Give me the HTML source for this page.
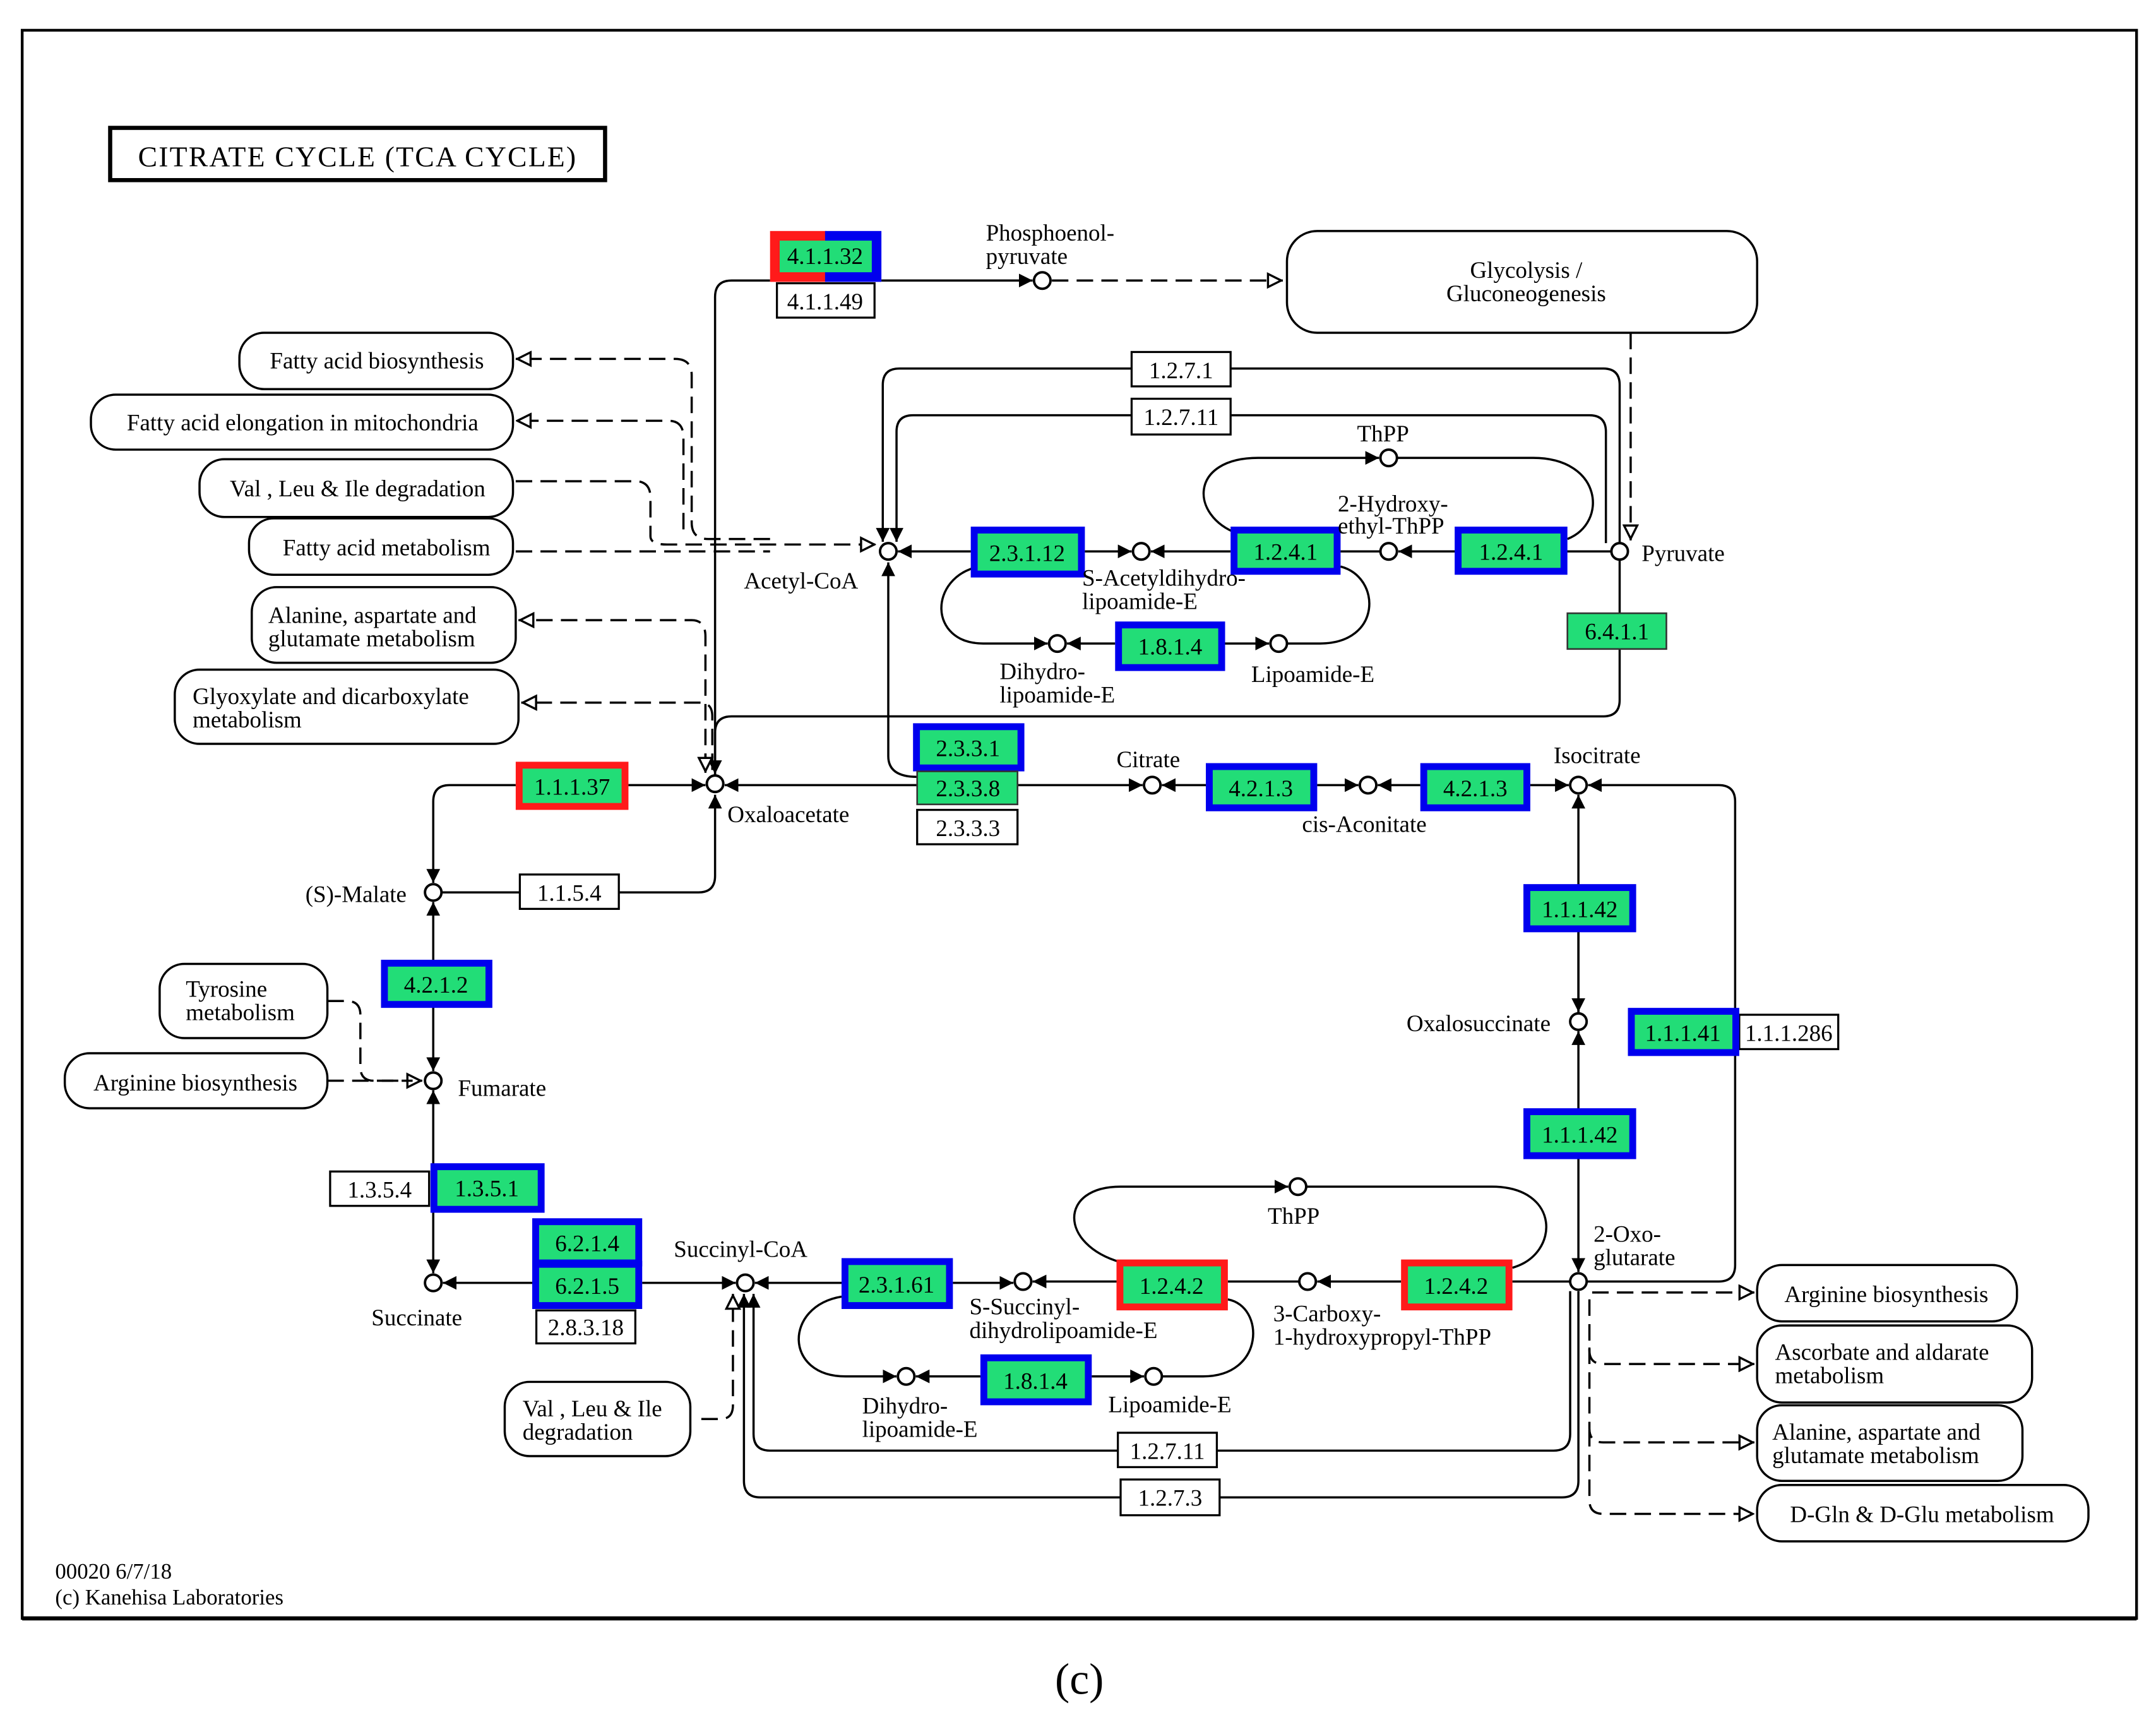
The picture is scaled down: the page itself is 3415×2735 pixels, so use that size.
<!DOCTYPE html>
<html><head><meta charset="utf-8"><style>
html,body{margin:0;padding:0;background:#fff;}
svg{display:block;}
text{font-family:"Liberation Serif",serif;font-size:17px;fill:#000;}
.e{text-anchor:middle;}
.ln{fill:none;stroke:#000;stroke-width:1.6;}
.d{fill:none;stroke:#000;stroke-width:1.6;stroke-dasharray:12,6;}
.c{fill:#fff;stroke:#000;stroke-width:1.8;}
.m{fill:#fff;stroke:#000;stroke-width:1.6;}
.w{fill:#fff;stroke:#000;stroke-width:1.5;}
.b{fill:#22dd77;stroke:#0000ee;stroke-width:5;}
.r{fill:#22dd77;stroke:#ff1a1a;stroke-width:5;}
.g{fill:#22dd77;stroke:#333;stroke-width:1.2;}
</style></head><body>
<svg width="3415" height="2735" viewBox="0 0 1568 1256" xmlns="http://www.w3.org/2000/svg">
<defs>
<marker id="a" viewBox="0 0 10 10" refX="10" refY="5" markerWidth="10" markerHeight="10" markerUnits="userSpaceOnUse" orient="auto"><path d="M0,0 L10,5 L0,10 z" fill="#000"/></marker>
<marker id="o" viewBox="0 0 10 10" refX="10" refY="5" markerWidth="12" markerHeight="12" markerUnits="userSpaceOnUse" orient="auto"><path d="M1,1 L9,5 L1,9 z" fill="#fff" stroke="#000" stroke-width="1.3"/></marker>
</defs>
<rect x="16" y="22" width="1538" height="1155" fill="none" stroke="#000" stroke-width="2"/>
<line x1="16" y1="1177" x2="1554" y2="1177" stroke="#000" stroke-width="3"/>
<text x="785" y="1232" class="e" style="font-size:32px">(c)</text>
<rect x="80" y="93" width="360" height="38" fill="#fff" stroke="#000" stroke-width="3"/>
<text x="260" y="121" class="e" style="font-size:21px;letter-spacing:1px">CITRATE  CYCLE  (TCA CYCLE)</text>

<!-- lines -->
<path class="ln" d="M520,564 L520,216 Q520,204 532,204 L560,204"/>
<path class="ln" d="M641,204 L751,204" marker-end="url(#a)"/>
<path class="d" d="M765,204 L933,204" marker-end="url(#o)"/>
<path class="d" d="M1186,242 L1186,393" marker-end="url(#o)"/>
<path class="ln" d="M1178,395 L1178,280 Q1178,268 1166,268 L895,268 M823,268 L654,268 Q642,268 642,280 L642,394" marker-end="url(#a)"/>
<path class="ln" d="M1168,395 L1168,314 Q1168,302 1156,302 L895,302 M823,302 L664,302 Q652,302 652,314 L652,394" marker-end="url(#a)"/>
<path class="ln" d="M1172,401 L1017,401" marker-end="url(#a)"/>
<path class="ln" d="M1004,401 L975,401 M895,401 L837,401" marker-end="url(#a)"/>
<path class="ln" d="M789,401 L823,401" marker-end="url(#a)"/>
<path class="ln" d="M706,401 L653,401" marker-end="url(#a)"/>
<path class="ln" d="M900,388 C865,375 865,333 915,333 L1003,333" marker-end="url(#a)"/>
<path class="ln" d="M1016,333 L1115,333 C1165,333 1170,380 1140,392"/>
<path class="ln" d="M712,412 C675,420 675,468 715,468 L762,468" marker-end="url(#a)"/>
<path class="ln" d="M811,468 L776,468" marker-end="url(#a)"/>
<path class="ln" d="M891,468 L923,468" marker-end="url(#a)"/>
<path class="ln" d="M936,468 L960,468 C1005,468 1005,420 975,412"/>
<path class="ln" d="M667,565 Q646,565 646,550 L646,409" marker-end="url(#a)"/>
<path class="ln" d="M740,571 L831,571" marker-end="url(#a)"/>
<path class="ln" d="M667,571 L527,571" marker-end="url(#a)"/>
<path class="ln" d="M877,571 L845,571" marker-end="url(#a)"/>
<path class="ln" d="M958,571 L988,571" marker-end="url(#a)"/>
<path class="ln" d="M1033,571 L1002,571" marker-end="url(#a)"/>
<path class="ln" d="M1113,571 L1141,571" marker-end="url(#a)"/>
<path class="ln" d="M1154,932 L1250,932 Q1262,932 1262,920 L1262,583 Q1262,571 1250,571 L1155,571" marker-end="url(#a)"/>
<path class="ln" d="M1148,737 L1148,578" marker-end="url(#a)"/>
<path class="ln" d="M1148,660 L1148,736" marker-end="url(#a)"/>
<path class="ln" d="M1148,830 L1148,750" marker-end="url(#a)"/>
<path class="ln" d="M1148,826 L1148,925" marker-end="url(#a)"/>
<path class="ln" d="M1178,407 L1178,509 Q1178,521 1166,521 L532,521 Q520,521 520,533 L520,563" marker-end="url(#a)"/>
<path class="d" d="M560,392 L515,392 Q503,392 503,380 L503,273 Q503,261 491,261 L375,261" marker-end="url(#o)"/>
<path class="d" d="M497,385 L497,318 Q497,306 486,306 L375,306" marker-end="url(#o)"/>
<path class="d" d="M375,350 L462,350 Q473,350 473,362 L473,390 Q473,396 485,396 L637,396" marker-end="url(#o)"/>
<path class="d" d="M375,401 L560,401"/>
<path class="d" d="M513,560 L513,463 Q513,451 503,451 L377,451" marker-end="url(#o)"/>
<path class="d" d="M518,560 L518,521 Q518,511 509,511 L379,511" marker-end="url(#o)"/>
<path class="ln" d="M513,548 L513,562" marker-end="url(#o)"/>
<path class="ln" d="M457,571 L513,571" marker-end="url(#a)"/>
<path class="ln" d="M375,571 L327,571 Q315,571 315,583 L315,642" marker-end="url(#a)"/>
<path class="ln" d="M321,649 L508,649 Q520,649 520,637 L520,578" marker-end="url(#a)"/>
<path class="ln" d="M315,700 L315,656" marker-end="url(#a)"/>
<path class="ln" d="M315,730 L315,779" marker-end="url(#a)"/>
<path class="d" d="M238,728 L252,728 Q262,728 262,738 L262,776 Q262,786 272,786 L307,786" marker-end="url(#o)"/>
<path class="d" d="M238,786 L300,786"/>
<path class="ln" d="M315,850 L315,793" marker-end="url(#a)"/>
<path class="ln" d="M315,880 L315,926" marker-end="url(#a)"/>
<path class="ln" d="M387,933 L322,933" marker-end="url(#a)"/>
<path class="ln" d="M467,933 L535,933" marker-end="url(#a)"/>
<path class="ln" d="M612,933 L549,933" marker-end="url(#a)"/>
<path class="ln" d="M693,933 L737,933" marker-end="url(#a)"/>
<path class="ln" d="M945,932 L893,932 M812,932 L751,932" marker-end="url(#a)"/>
<path class="ln" d="M1142,932 L1100,932 M1019,932 L958,932" marker-end="url(#a)"/>
<path class="ln" d="M815,918 C770,905 770,863 815,863 L937,863" marker-end="url(#a)"/>
<path class="ln" d="M950,863 L1085,863 C1135,863 1135,912 1100,922"/>
<path class="ln" d="M612,943 C570,950 570,1001 615,1001 L652,1001" marker-end="url(#a)"/>
<path class="ln" d="M713,1001 L666,1001" marker-end="url(#a)"/>
<path class="ln" d="M794,1001 L832,1001" marker-end="url(#a)"/>
<path class="ln" d="M845,1001 L875,1001 C920,1001 920,950 893,945"/>
<path class="ln" d="M1142,939 L1142,1043 Q1142,1055 1130,1055 L885,1055 M813,1055 L560,1055 Q548,1055 548,1043 L548,941" marker-end="url(#a)"/>
<path class="ln" d="M1148,939 L1148,1077 Q1148,1089 1136,1089 L887,1089 M815,1089 L553,1089 Q541,1089 541,1077 L541,941" marker-end="url(#a)"/>
<path class="d" d="M510,1032 L524,1032 Q533,1032 533,1022 L533,941" marker-end="url(#o)"/>
<path class="d" d="M1158,940 L1276,940" marker-end="url(#o)"/>
<path class="d" d="M1156,945 L1156,982 Q1156,992 1166,992 L1276,992" marker-end="url(#o)"/>
<path class="d" d="M1156,980 L1156,1039 Q1156,1049 1166,1049 L1276,1049" marker-end="url(#o)"/>
<path class="d" d="M1156,1040 L1156,1091 Q1156,1101 1166,1101 L1276,1101" marker-end="url(#o)"/>

<!-- map boxes -->
<rect class="m" x="936" y="168" width="342" height="74" rx="22"/>
<text x="1110" y="202" class="e">Glycolysis /</text><text x="1110" y="219" class="e">Gluconeogenesis</text>
<rect class="m" x="174" y="242" width="199" height="41" rx="18"/><text x="274" y="268" class="e">Fatty acid biosynthesis</text>
<rect class="m" x="66" y="287" width="307" height="40" rx="18"/><text x="220" y="313" class="e">Fatty acid elongation in mitochondria</text>
<rect class="m" x="145" y="334" width="228" height="42" rx="18"/><text x="260" y="361" class="e">Val , Leu &amp; Ile degradation</text>
<rect class="m" x="181" y="377" width="192" height="41" rx="18"/><text x="281" y="404" class="e">Fatty acid metabolism</text>
<rect class="m" x="183" y="427" width="192" height="55" rx="18"/><text x="195" y="453">Alanine, aspartate and</text><text x="195" y="470">glutamate metabolism</text>
<rect class="m" x="127" y="487" width="250" height="54" rx="18"/><text x="140" y="512">Glyoxylate and dicarboxylate</text><text x="140" y="529">metabolism</text>
<rect class="m" x="116" y="701" width="122" height="54" rx="18"/><text x="135" y="725">Tyrosine</text><text x="135" y="742">metabolism</text>
<rect class="m" x="47" y="766" width="191" height="40" rx="18"/><text x="142" y="793" class="e">Arginine biosynthesis</text>
<rect class="m" x="367" y="1005" width="135" height="54" rx="18"/><text x="380" y="1030">Val , Leu &amp; Ile</text><text x="380" y="1047">degradation</text>
<rect class="m" x="1278" y="920" width="189" height="41" rx="18"/><text x="1372" y="947" class="e">Arginine biosynthesis</text>
<rect class="m" x="1278" y="964" width="200" height="56" rx="18"/><text x="1291" y="989">Ascorbate and aldarate</text><text x="1291" y="1006">metabolism</text>
<rect class="m" x="1278" y="1022" width="193" height="55" rx="18"/><text x="1289" y="1047">Alanine, aspartate and</text><text x="1289" y="1064">glutamate metabolism</text>
<rect class="m" x="1278" y="1080" width="241" height="41" rx="18"/><text x="1398" y="1107" class="e">D-Gln &amp; D-Glu metabolism</text>

<!-- enzymes -->
<rect x="560" y="168" width="41" height="37" fill="#ff1a1a"/><rect x="600" y="168" width="41" height="37" fill="#0000ee"/>
<rect x="567" y="175" width="67" height="23" fill="#22dd77"/><text x="600" y="192" class="e">4.1.1.32</text>
<rect class="w" x="565" y="206" width="71" height="25"/><text x="600" y="225" class="e">4.1.1.49</text>
<rect class="w" x="823" y="256" width="72" height="25"/><text x="859" y="275" class="e">1.2.7.1</text>
<rect class="w" x="823" y="290" width="72" height="26"/><text x="859" y="309" class="e">1.2.7.11</text>
<rect class="b" x="708.5" y="385.5" width="78" height="32"/><text x="747" y="408" class="e">2.3.1.12</text>
<rect class="b" x="897.5" y="385.5" width="75" height="30"/><text x="935" y="407" class="e">1.2.4.1</text>
<rect class="b" x="1060.5" y="385.5" width="77" height="30"/><text x="1099" y="407" class="e">1.2.4.1</text>
<rect class="g" x="1140" y="446" width="72" height="26"/><text x="1176" y="465" class="e">6.4.1.1</text>
<rect class="b" x="813.5" y="454.5" width="75" height="31"/><text x="851" y="476" class="e">1.8.1.4</text>
<rect class="b" x="666.5" y="528.5" width="76" height="30"/><text x="704" y="550" class="e">2.3.3.1</text>
<rect class="g" x="667" y="561" width="73" height="24"/><text x="704" y="579" class="e">2.3.3.8</text>
<rect class="w" x="667" y="589" width="73" height="25"/><text x="704" y="608" class="e">2.3.3.3</text>
<rect class="b" x="879.5" y="557.5" width="76" height="30"/><text x="917" y="579" class="e">4.2.1.3</text>
<rect class="b" x="1035.5" y="557.5" width="75" height="30"/><text x="1073" y="579" class="e">4.2.1.3</text>
<rect class="r" x="377.5" y="556.5" width="77" height="30"/><text x="416" y="578" class="e">1.1.1.37</text>
<rect class="w" x="378" y="636" width="72" height="25"/><text x="414" y="655" class="e">1.1.5.4</text>
<rect class="b" x="1110.5" y="645.5" width="77" height="30"/><text x="1149" y="667" class="e">1.1.1.42</text>
<rect class="w" x="1265" y="738" width="72" height="25"/><text x="1301" y="757" class="e">1.1.1.286</text>
<rect class="b" x="1186.5" y="735.5" width="76" height="30"/><text x="1224" y="757" class="e">1.1.1.41</text>
<rect class="b" x="1110.5" y="808.5" width="77" height="32"/><text x="1149" y="831" class="e">1.1.1.42</text>
<rect class="b" x="279.5" y="700.5" width="76" height="30"/><text x="317" y="722" class="e">4.2.1.2</text>
<rect class="w" x="240" y="852" width="72" height="25"/><text x="276" y="871" class="e">1.3.5.4</text>
<rect class="b" x="315.5" y="848.5" width="78" height="31"/><text x="354" y="870" class="e">1.3.5.1</text>
<rect class="b" x="389.5" y="888.5" width="75" height="30"/><text x="427" y="910" class="e">6.2.1.4</text>
<rect class="b" x="389.5" y="919.5" width="75" height="30"/><text x="427" y="941" class="e">6.2.1.5</text>
<rect class="w" x="390" y="953" width="72" height="24"/><text x="426" y="971" class="e">2.8.3.18</text>
<rect class="b" x="614.5" y="917.5" width="76" height="32"/><text x="652" y="940" class="e">2.3.1.61</text>
<rect class="r" x="814.5" y="918.5" width="76" height="32"/><text x="852" y="941" class="e">1.2.4.2</text>
<rect class="r" x="1021.5" y="918.5" width="76" height="32"/><text x="1059" y="941" class="e">1.2.4.2</text>
<rect class="b" x="715.5" y="987.5" width="76" height="32"/><text x="753" y="1010" class="e">1.8.1.4</text>
<rect class="w" x="813" y="1042" width="72" height="25"/><text x="849" y="1061" class="e">1.2.7.11</text>
<rect class="w" x="815" y="1076" width="72" height="26"/><text x="851" y="1095" class="e">1.2.7.3</text>

<!-- compounds -->
<g>
<circle class="c" cx="758" cy="204" r="6"/><circle class="c" cx="646" cy="401" r="6"/>
<circle class="c" cx="830" cy="401" r="6"/><circle class="c" cx="1010" cy="401" r="6"/>
<circle class="c" cx="1010" cy="333" r="6"/><circle class="c" cx="1178" cy="401" r="6"/>
<circle class="c" cx="769" cy="468" r="6"/><circle class="c" cx="930" cy="468" r="6"/>
<circle class="c" cx="520" cy="570" r="6"/><circle class="c" cx="838" cy="571" r="6"/>
<circle class="c" cx="995" cy="571" r="6"/><circle class="c" cx="1148" cy="571" r="6"/>
<circle class="c" cx="315" cy="649" r="6"/><circle class="c" cx="315" cy="786" r="6"/>
<circle class="c" cx="1148" cy="743" r="6"/><circle class="c" cx="1148" cy="932" r="6"/>
<circle class="c" cx="315" cy="933" r="6"/><circle class="c" cx="542" cy="933" r="6"/>
<circle class="c" cx="744" cy="932" r="6"/><circle class="c" cx="951" cy="932" r="6"/>
<circle class="c" cx="944" cy="863" r="6"/><circle class="c" cx="659" cy="1001" r="6"/>
<circle class="c" cx="839" cy="1001" r="6"/>
</g>

<!-- labels -->
<text x="717" y="175">Phosphoenol-</text><text x="717" y="192">pyruvate</text>
<text x="541" y="428">Acetyl-CoA</text>
<text x="787" y="426">S-Acetyldihydro-</text><text x="787" y="443">lipoamide-E</text>
<text x="973" y="372">2-Hydroxy-</text><text x="973" y="388">ethyl-ThPP</text>
<text x="987" y="321">ThPP</text>
<text x="1194" y="408">Pyruvate</text>
<text x="727" y="494">Dihydro-</text><text x="727" y="511">lipoamide-E</text>
<text x="910" y="496">Lipoamide-E</text>
<text x="812" y="558">Citrate</text><text x="1130" y="555">Isocitrate</text>
<text x="947" y="605">cis-Aconitate</text>
<text x="529" y="598">Oxaloacetate</text>
<text x="222" y="656">(S)-Malate</text>
<text x="333" y="797">Fumarate</text>
<text x="1023" y="750">Oxalosuccinate</text>
<text x="1159" y="903">2-Oxo-</text><text x="1159" y="920">glutarate</text>
<text x="490" y="914">Succinyl-CoA</text>
<text x="270" y="964">Succinate</text>
<text x="705" y="956">S-Succinyl-</text><text x="705" y="973">dihydrolipoamide-E</text>
<text x="926" y="961">3-Carboxy-</text><text x="926" y="978">1-hydroxypropyl-ThPP</text>
<text x="922" y="890">ThPP</text>
<text x="627" y="1028">Dihydro-</text><text x="627" y="1045">lipoamide-E</text>
<text x="806" y="1027">Lipoamide-E</text>
<text x="40" y="1148" style="font-size:16px">00020 6/7/18</text>
<text x="40" y="1167" style="font-size:16px">(c) Kanehisa Laboratories</text>
</svg>
</body></html>
